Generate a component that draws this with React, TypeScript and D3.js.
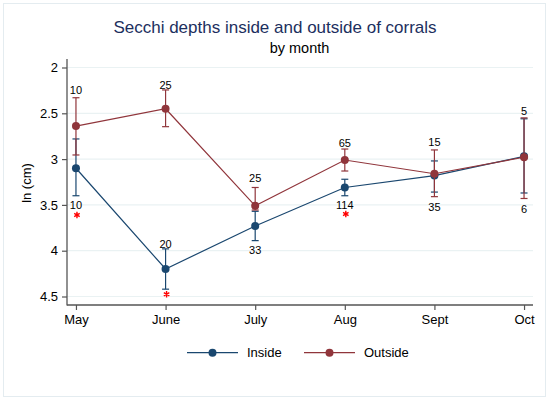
import React, { useEffect, useRef } from "react";
import * as d3 from "d3";

// months on the x axis
const months = ["May", "June", "July", "Aug", "Sept", "Oct"];

// mean ln(cm) with confidence interval ends
const insideMean = [3.1, 4.2, 3.73, 3.31, 3.18, 2.97];
const insideLow = [2.78, 3.98, 3.57, 3.22, 3.02, 2.56];
const insideHigh = [3.4, 4.42, 3.89, 3.4, 3.36, 3.37];

const outsideMean = [2.64, 2.45, 3.51, 3.01, 3.16, 2.98];
const outsideLow = [2.33, 2.245, 3.31, 2.89, 2.9, 2.55];
const outsideHigh = [2.955, 2.646, 3.556, 3.13, 3.41, 3.43];

// sample sizes and where their labels sit (in ln cm)
const insideN = ["10", "20", "33", "114", "35", "6"];
const insideLabelAt = [3.545, 3.973, 4.04, 3.545, 3.567, 3.59];
const outsideN = ["10", "25", "25", "65", "15", "5"];
const outsideLabelAt = [2.293, 2.238, 3.247, 2.865, 2.854, 2.519];

// significance stars
const starMonths = ["May", "June", "Aug"];
const starAt = [3.61, 4.475, 3.6];

const yTicks = [2, 2.5, 3, 3.5, 4, 4.5];

const navy = "#1a476f";
const maroon = "#90353b";
const font = "'Liberation Sans', Arial, Helvetica, sans-serif";

const App = () => {
    const ref = useRef<SVGSVGElement>(null);

    useEffect(() => {
        const width = 550;
        const height = 401;
        const left = 67; // plot region, in pixels
        const right = 533;
        const top = 59;
        const bottom = 305;

        const svg = d3.select(ref.current);
        svg.selectAll("*").remove();

        svg.append("rect")
            .attr("x", 0).attr("y", 0).attr("width", width).attr("height", height)
            .attr("fill", "#ffffff");
        svg.append("rect")
            .attr("x", 3.5).attr("y", 3.5).attr("width", 542).attr("height", 393)
            .attr("fill", "none").attr("stroke", "#e4ecf0").attr("stroke-width", 1);

        const x = d3.scalePoint<string>().domain(months).range([left, right]).padding(0.1);
        const y = d3.scaleLinear().domain([2, 4.5]).range([67.5, 296.5]);

        // gridlines
        svg.append("g")
            .selectAll("line")
            .data(yTicks)
            .enter()
            .append("line")
            .attr("x1", left).attr("x2", right)
            .attr("y1", (d) => y(d)).attr("y2", (d) => y(d))
            .attr("stroke", "#eaf2f3").attr("stroke-width", 1.2);

        // axes
        const yAxis = d3.axisLeft(y).tickValues(yTicks).tickSize(5).tickPadding(4).tickFormat((d) => String(d));
        const gy = svg.append("g").attr("transform", `translate(${left},0)`).call(yAxis);
        gy.select(".domain").remove();
        gy.selectAll("line").attr("stroke", "#555").attr("stroke-width", 1.2);
        gy.selectAll("text").attr("font-family", font).attr("font-size", 13).attr("fill", "#000");

        const xAxis = d3.axisBottom(x).tickSize(5).tickPadding(5);
        const gx = svg.append("g").attr("transform", `translate(0,${bottom})`).call(xAxis);
        gx.select(".domain").remove();
        gx.selectAll("line").attr("stroke", "#555").attr("stroke-width", 1.2);
        gx.selectAll("text").attr("font-family", font).attr("font-size", 13).attr("fill", "#000");

        svg.append("line")
            .attr("x1", left).attr("x2", left).attr("y1", top).attr("y2", bottom + 0.6)
            .attr("stroke", "#555").attr("stroke-width", 1.3);
        svg.append("line")
            .attr("x1", left).attr("x2", right).attr("y1", bottom).attr("y2", bottom)
            .attr("stroke", "#555").attr("stroke-width", 1.3);

        // series
        const series = [
            { mean: insideMean, low: insideLow, high: insideHigh, color: navy },
            { mean: outsideMean, low: outsideLow, high: outsideHigh, color: maroon },
        ];
        const line = d3.line<number>().x((_, i) => x(months[i]) as number).y((d) => y(d));

        series.forEach((s) => {
            const g = svg.append("g");
            months.forEach((m, i) => {
                const cx = x(m) as number;
                g.append("line")
                    .attr("x1", cx).attr("x2", cx).attr("y1", y(s.low[i])).attr("y2", y(s.high[i]))
                    .attr("stroke", s.color).attr("stroke-width", 1.2);
                [s.low[i], s.high[i]].forEach((v) => {
                    g.append("line")
                        .attr("x1", cx - 3.5).attr("x2", cx + 3.5).attr("y1", y(v)).attr("y2", y(v))
                        .attr("stroke", s.color).attr("stroke-width", 1.2);
                });
            });
            g.append("path")
                .attr("d", line(s.mean))
                .attr("fill", "none").attr("stroke", s.color).attr("stroke-width", 1.2);
            g.selectAll("circle")
                .data(s.mean)
                .enter()
                .append("circle")
                .attr("cx", (_, i) => x(months[i]) as number)
                .attr("cy", (d) => y(d))
                .attr("r", 4)
                .attr("fill", s.color);
        });

        // sample size labels
        const labels = [
            { text: insideN, at: insideLabelAt },
            { text: outsideN, at: outsideLabelAt },
        ];
        labels.forEach((l) => {
            svg.append("g")
                .selectAll("text")
                .data(l.text)
                .enter()
                .append("text")
                .attr("x", (_, i) => x(months[i]) as number)
                .attr("y", (_, i) => y(l.at[i]))
                .attr("text-anchor", "middle")
                .attr("font-family", font)
                .attr("font-size", 11)
                .attr("fill", "#000")
                .text((d) => d);
        });

        // stars
        const star = d3.symbol().type(d3.symbolAsterisk).size(28);
        svg.append("g")
            .selectAll("path")
            .data(starMonths)
            .enter()
            .append("path")
            .attr("d", star)
            .attr("transform", (d, i) => `translate(${(x(d) as number) + 1},${y(starAt[i])})`)
            .attr("fill", "none")
            .attr("stroke", "#ff0000")
            .attr("stroke-width", 1.4);

        // titles
        svg.append("text")
            .attr("x", 275).attr("y", 33)
            .attr("text-anchor", "middle")
            .attr("font-family", font).attr("font-size", 17)
            .attr("fill", "#1c2f5e")
            .text("Secchi depths inside and outside of corrals");
        svg.append("text")
            .attr("x", 299.5).attr("y", 53)
            .attr("text-anchor", "middle")
            .attr("font-family", font).attr("font-size", 14.5)
            .attr("fill", "#000")
            .text("by month");

        svg.append("text")
            .attr("transform", "translate(31,183) rotate(-90)")
            .attr("text-anchor", "middle")
            .attr("font-family", font).attr("font-size", 13)
            .attr("fill", "#000")
            .text("ln (cm)");

        // legend
        const legend = [
            { name: "Inside", color: navy, x0: 187 },
            { name: "Outside", color: maroon, x0: 304 },
        ];
        legend.forEach((l) => {
            const g = svg.append("g").attr("transform", `translate(${l.x0},352.7)`);
            g.append("line").attr("x1", 0).attr("x2", 51).attr("y1", 0).attr("y2", 0)
                .attr("stroke", l.color).attr("stroke-width", 1.2);
            g.append("circle").attr("cx", 25.5).attr("cy", 0).attr("r", 4).attr("fill", l.color);
            g.append("text").attr("x", 60).attr("y", 4.6)
                .attr("font-family", font).attr("font-size", 13).attr("fill", "#000")
                .text(l.name);
        });
    }, []);

    return (
        <svg
            ref={ref}
            width={550}
            height={401}
            viewBox="0 0 550 401"
            style={{ position: "absolute", left: 0, top: 0, display: "block" }}
        />
    );
};

export default App;
